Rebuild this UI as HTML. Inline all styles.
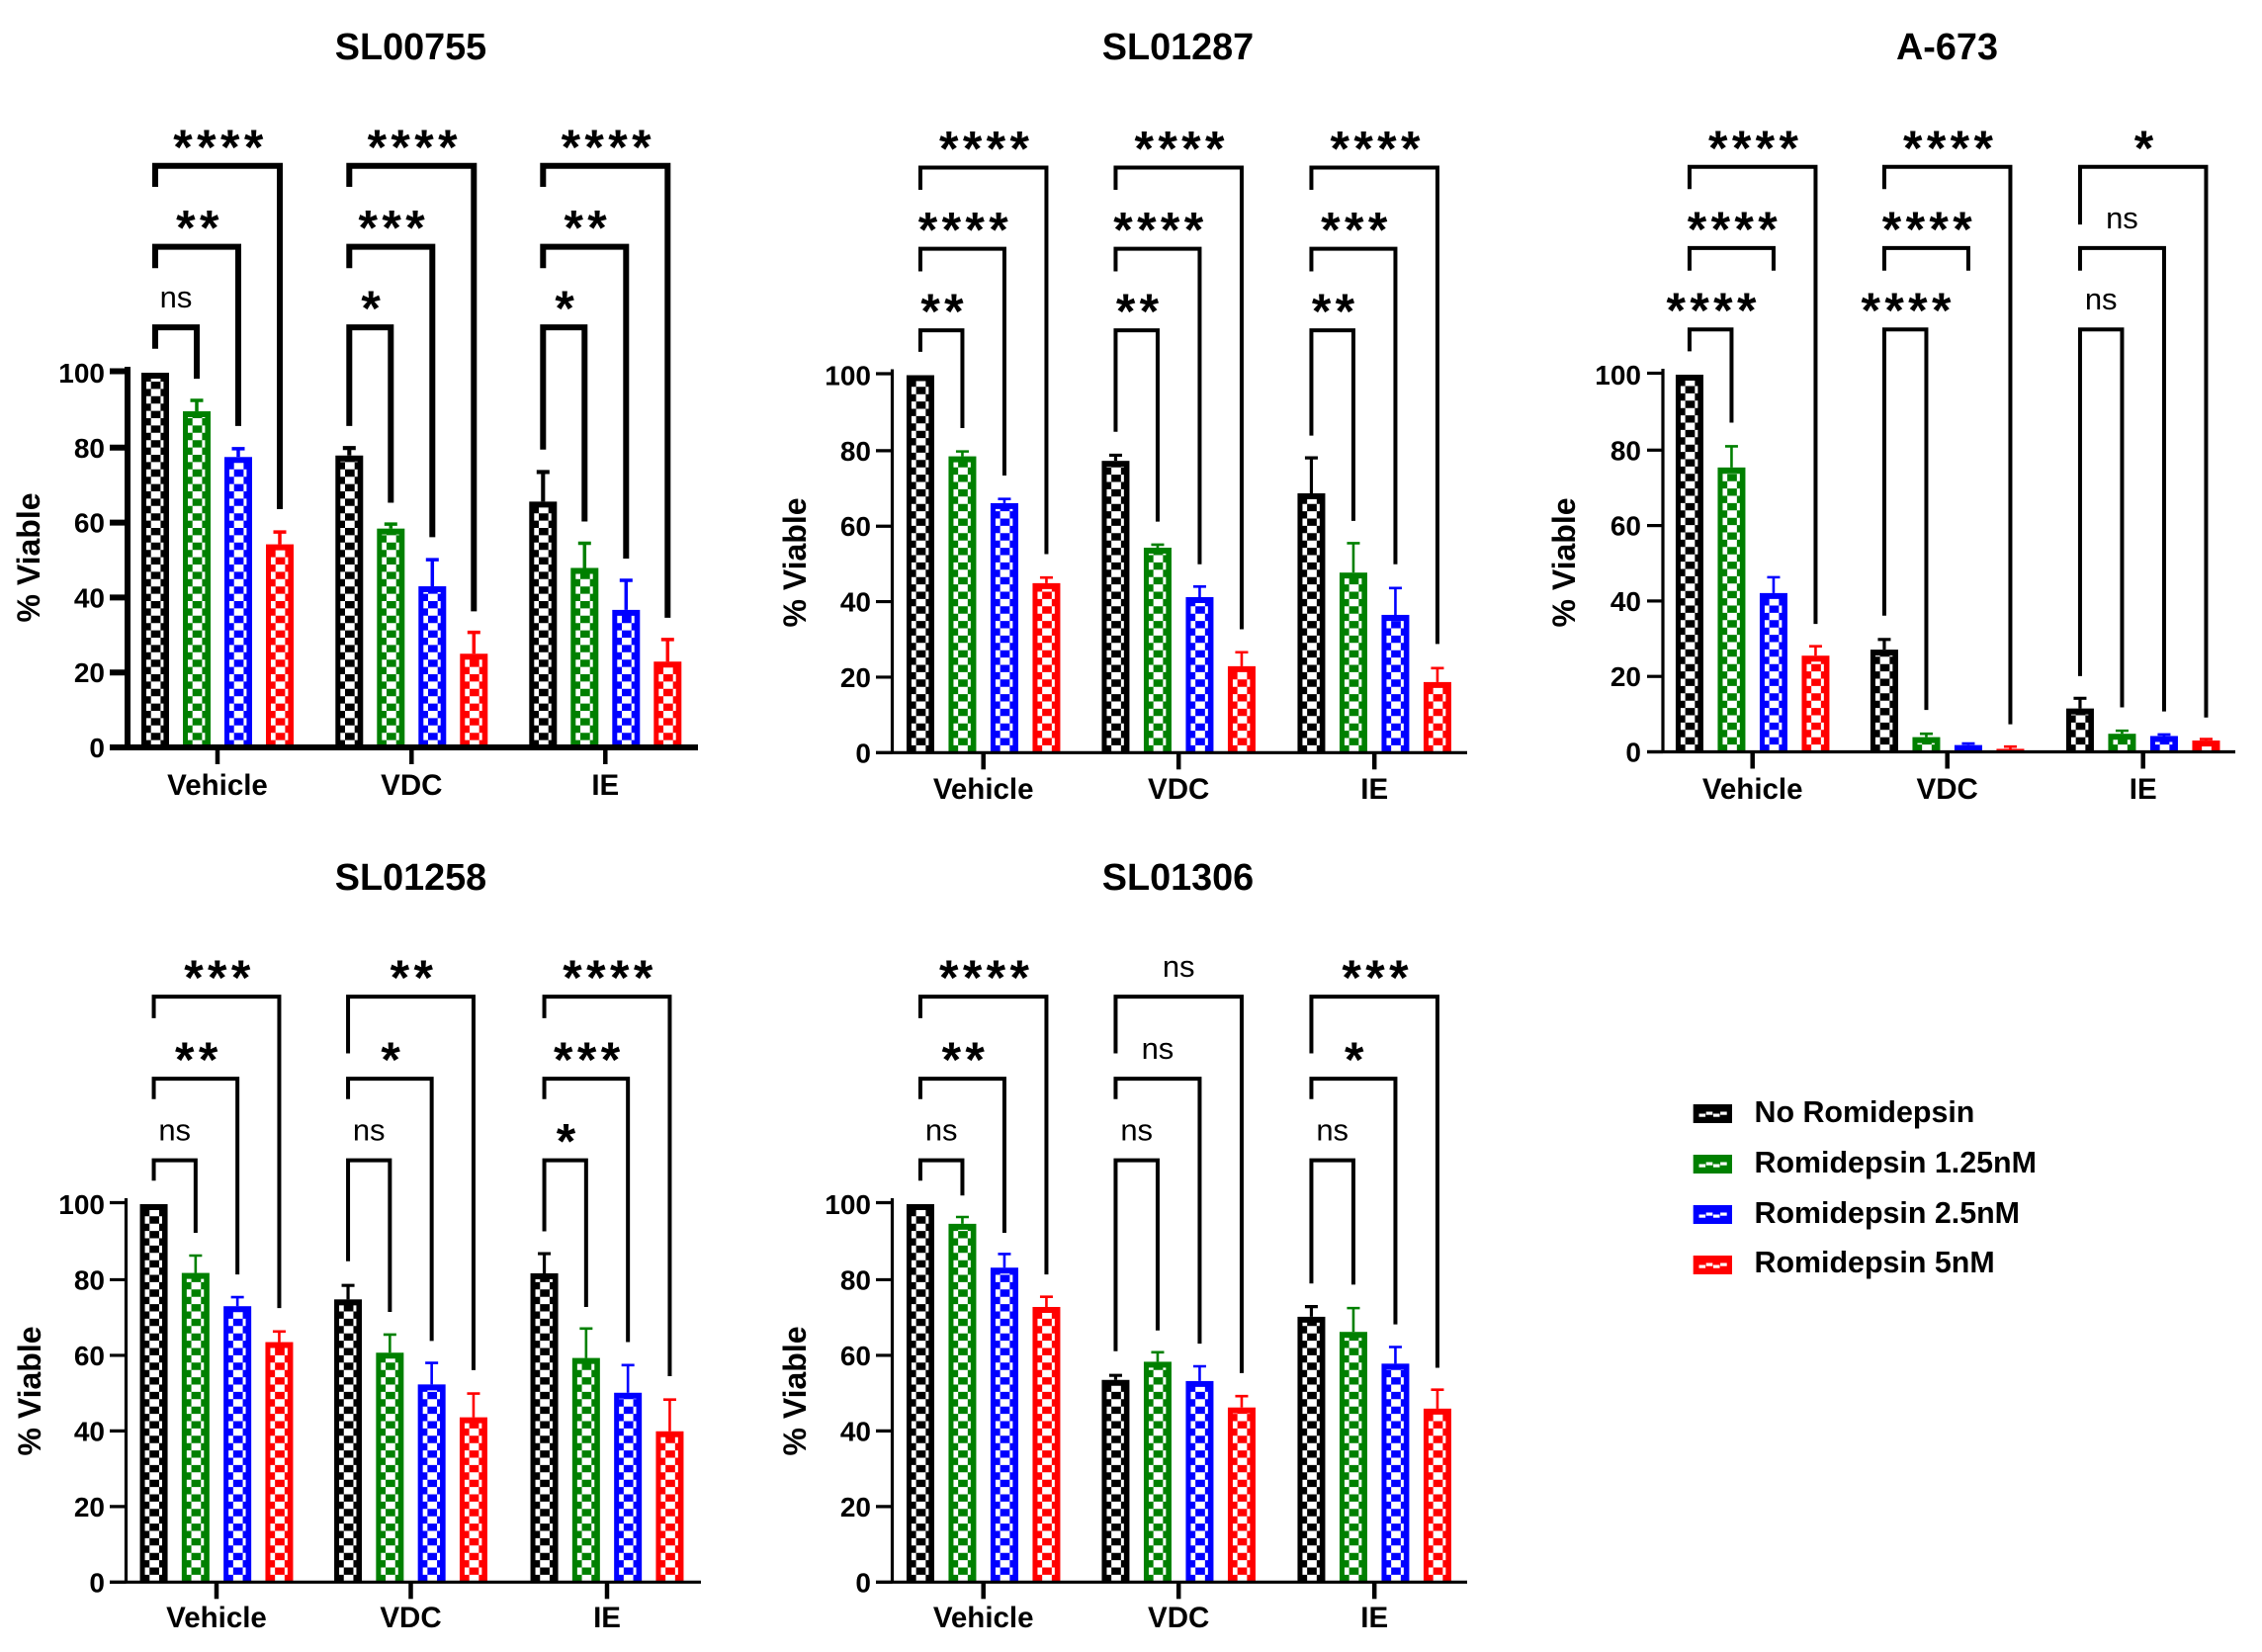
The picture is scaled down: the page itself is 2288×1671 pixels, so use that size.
<!DOCTYPE html>
<html lang="en">
<head>
<meta charset="utf-8">
<title>Romidepsin viability panels</title>
<style>
html,body{margin:0;padding:0;background:#fff;}
body{width:2288px;height:1671px;overflow:hidden;}
svg{display:block;}
text{font-family:"Liberation Sans",Arial,sans-serif;fill:#000;}
.title{font-weight:700;font-size:37.8px;text-anchor:middle;}
.legend-text{font-weight:700;font-size:30.4px;}
</style>
</head>
<body>
<svg id="figure" xmlns="http://www.w3.org/2000/svg" width="2288" height="1671" viewBox="0 0 2288 1671">
  <rect x="0" y="0" width="2288" height="1671" fill="#ffffff"/>
  <text class="title" x="415.5" y="60">SL00755</text>
  <text class="title" x="1191.5" y="60">SL01287</text>
  <text class="title" x="1969.5" y="60">A-673</text>
  <text class="title" x="415.5" y="900">SL01258</text>
  <text class="title" x="1191.5" y="900">SL01306</text>
  <g id="panel-0"></g>
  <g id="panel-1"></g>
  <g id="panel-2"></g>
  <g id="panel-3"></g>
  <g id="panel-4"></g>
  <g>
    <g id="swatch-0"></g>
    <text class="legend-text" x="1774.5" y="1135">No Romidepsin</text>
    <g id="swatch-1"></g>
    <text class="legend-text" x="1774.5" y="1186">Romidepsin 1.25nM</text>
    <g id="swatch-2"></g>
    <text class="legend-text" x="1774.5" y="1237">Romidepsin 2.5nM</text>
    <g id="swatch-3"></g>
    <text class="legend-text" x="1774.5" y="1287">Romidepsin 5nM</text>
  </g>
</svg>
<script>
// ---- shared chart data ----
const categories = ['Vehicle', 'VDC', 'IE'];
const seriesColors = ['#000000', '#008000', '#0000ff', '#ff0000'];
const yTicks = [0, 20, 40, 60, 80, 100];

// ---- bar heights, one row per category, one column per series ----
const sl00755Means = [[100, 89.7, 77.5, 54.2], [77.9, 58.4, 43, 25], [65.6, 47.9, 36.7, 22.9]];
const sl01287Means = [[100, 78.5, 66.1, 44.9], [77.3, 54.3, 41.2, 22.9], [68.7, 47.7, 36.5, 18.7]];
const a673Means = [[100, 75.4, 42.1, 25.5], [27.1, 3.9, 1.8, 0.8], [11.5, 4.8, 4.2, 3]];
const sl01258Means = [[100, 81.8, 73, 63.5], [74.8, 60.7, 52.3, 43.6], [81.7, 59.3, 50.1, 39.9]];
const sl01306Means = [[100, 94.8, 83.2, 72.8], [53.5, 58.3, 53.2, 46.2], [70.2, 66.2, 57.8, 45.9]];

// ---- error bar upper ends ----
const sl00755ErrorTops = [[100, 92.6, 79.7, 57.5], [79.9, 59.6, 50.1, 30.7], [73.5, 54.5, 44.6, 28.8]];
const sl01287ErrorTops = [[100, 79.8, 67.2, 46.4], [78.8, 55.1, 44, 26.6], [78.1, 55.5, 43.6, 22.4]];
const a673ErrorTops = [[100, 81, 46.3, 28], [29.8, 4.8, 2.2, 1.4], [14.2, 5.6, 4.6, 3.4]];
const sl01258ErrorTops = [[100, 86.4, 75.4, 66.3], [78.5, 65.5, 58, 49.9], [86.9, 67.1, 57.4, 48.3]];
const sl01306ErrorTops = [[100, 96.6, 86.8, 75.5], [54.7, 60.8, 57.1, 49.2], [72.9, 72.5, 62.2, 50.9]];

// ---- significance brackets per category: [low, middle, top] ----
const sl00755BracketLevels = [112.1, 133.6, 155.2];
const sl00755BracketLeft = [[106.4, 127.9, 149.6], [85.8, 127.9, 149.6], [79.5, 127.9, 149.6]];
const sl00755BracketRight = [[98.4, 85.8, 63.6], [65.3, 56.1, 36.3], [60.3, 50.4, 34.6]];
const sl00755Significance = [['ns', '**', '****'], ['*', '***', '****'], ['*', '**', '****']];

const sl01287BracketLevels = [111.9, 133.5, 155];
const sl01287BracketLeft = [[106.2, 127.5, 149.1], [85, 127.5, 149.1], [84, 127.5, 149.1]];
const sl01287BracketRight = [[86, 73.4, 52.6], [61.2, 49.9, 32.7], [61.4, 49.9, 28.8]];
const sl01287Significance = [['**', '****', '****'], ['**', '****', '****'], ['**', '***', '****']];

const a673BracketLevels = [112, 133.6, 155.1];
const a673BracketLeft = [[106.2, 127.6, 149.2], [36.1, 127.6, 149.2], [20.1, 127.6, 139.8]];
const a673BracketRight = [[87.3, 127.6, 33.9], [11.1, 127.6, 7.3], [11.8, 10.7, 9.1]];
const a673Significance = [['****', '****', '****'], ['****', '****', '****'], ['ns', 'ns', '*']];

const sl01258BracketLevels = [111.6, 133.2, 154.9];
const sl01258BracketLeft = [[106.2, 127.8, 149.2], [84.9, 127.8, 139.9], [92.8, 127.8, 149.2]];
const sl01258BracketRight = [[92.4, 81.4, 72.5], [71.5, 63.8, 56.1], [72.8, 63.5, 54.5]];
const sl01258Significance = [['ns', '**', '***'], ['ns', '*', '**'], ['*', '***', '****']];

const sl01306BracketLevels = [111.6, 133.2, 154.9];
const sl01306BracketLeft = [[106.2, 127.8, 149.2], [61.1, 127.8, 139.9], [79, 127.8, 139.9]];
const sl01306BracketRight = [[102.3, 92.4, 81.4], [66.6, 63.1, 55.3], [78.7, 68.2, 56.7]];
const sl01306Significance = [['ns', '**', '****'], ['ns', 'ns', 'ns'], ['ns', '*', '***']];

// ---- layout, separate from the data ----
const SVGNS = 'http://www.w3.org/2000/svg';
const panels = [
  {means: sl00755Means, tops: sl00755ErrorTops, levels: sl00755BracketLevels, left: sl00755BracketLeft, right: sl00755BracketRight, sig: sl00755Significance,
   axisX: 129, tickLeft: 111, axisEnd: 706, y0: 756, y100: 377, groups: [220, 416.3, 612.3], pitch: 42, axisW: 6, brW: 6, errW: 3.5, capW: 4, labelBase: 804, yLabelX: 40, yLabelY: 564, numRight: 106},
  {means: sl01287Means, tops: sl01287ErrorTops, levels: sl01287BracketLevels, left: sl01287BracketLeft, right: sl01287BracketRight, sig: sl01287Significance,
   axisX: 902.5, tickLeft: 886, axisEnd: 1484, y0: 761.3, y100: 379.5, groups: [994.7, 1192.2, 1390.2], pitch: 42.5, axisW: 3.2, brW: 4, errW: 2.6, capW: 2.6, labelBase: 808, yLabelX: 815, yLabelY: 569, numRight: 881},
  {means: a673Means, tops: a673ErrorTops, levels: a673BracketLevels, left: a673BracketLeft, right: a673BracketRight, sig: a673Significance,
   axisX: 1682, tickLeft: 1666, axisEnd: 2261, y0: 760.5, y100: 379, groups: [1772.7, 1969.7, 2167.7], pitch: 42.5, axisW: 3.2, brW: 4, errW: 2.6, capW: 2.6, labelBase: 808, yLabelX: 1593, yLabelY: 569, numRight: 1660},
  {means: sl01258Means, tops: sl01258ErrorTops, levels: sl01258BracketLevels, left: sl01258BracketLeft, right: sl01258BracketRight, sig: sl01258Significance,
   axisX: 127.5, tickLeft: 111, axisEnd: 709, y0: 1600.3, y100: 1218, groups: [219, 415.5, 614], pitch: 42.3, axisW: 3.2, brW: 4, errW: 2.6, capW: 2.6, labelBase: 1646, yLabelX: 41, yLabelY: 1407, numRight: 106},
  {means: sl01306Means, tops: sl01306ErrorTops, levels: sl01306BracketLevels, left: sl01306BracketLeft, right: sl01306BracketRight, sig: sl01306Significance,
   axisX: 902.5, tickLeft: 886, axisEnd: 1484, y0: 1600.3, y100: 1218, groups: [994.7, 1192.2, 1390.2], pitch: 42.5, axisW: 3.2, brW: 4, errW: 2.6, capW: 2.6, labelBase: 1646, yLabelX: 815, yLabelY: 1407, numRight: 881}
];

function mk(tag, parent, attrs) {
  const node = document.createElementNS(SVGNS, tag);
  for (const key in attrs) node.setAttribute(key, attrs[key]);
  parent.appendChild(node);
  return node;
}

const BAR_W = 28;
const ROW_H = 7.4;

function cellPath(xl, top, bottom) {
  // Checkered fill, anchored at the baseline and stopping under the top border.
  const inner = top + 6;
  let d = '';
  for (let i = 0; ; i++) {
    const yb = bottom - i * ROW_H;
    if (yb <= inner) break;
    const yt = Math.max(yb - ROW_H, inner);
    const h = (yb - yt).toFixed(2);
    if (i % 2 === 0) {
      d += 'M' + (xl + 9.7) + ' ' + yt.toFixed(2) + 'h9.7v' + h + 'h-9.7z';
    } else {
      d += 'M' + (xl + 5) + ' ' + yt.toFixed(2) + 'h4.7v' + h + 'h-4.7z';
      d += 'M' + (xl + 19.4) + ' ' + yt.toFixed(2) + 'h3v' + h + 'h-3z';
    }
  }
  return d;
}

function drawPanel(p, g) {
  const yScale = v => p.y0 - (p.y0 - p.y100) * v / 100;
  const xScale = (c, s) => p.groups[c] + (s - 1.5) * p.pitch;

  // Bars and error bars
  p.means.forEach((row, c) => {
    row.forEach((value, s) => {
      const cx = xScale(c, s);
      const color = seriesColors[s];
      const top = yScale(value);
      const errTop = yScale(p.tops[c][s]);
      if (p.tops[c][s] > value) {
        const err = mk('path', g, {
          d: 'M' + cx + ' ' + top + 'V' + errTop + 'M' + (cx - 6.5) + ' ' + errTop + 'H' + (cx + 6.5),
          fill: 'none', stroke: color, 'stroke-width': s === 0 ? p.errW + 0.6 : p.errW
        });
        
        
      }
      const bar = mk('rect', g, {x: cx - BAR_W / 2, y: top, width: BAR_W, height: Math.max(p.y0 - top, 0), fill: color});
      
      
      const cells = mk('path', g, {d: cellPath(cx - BAR_W / 2, top, p.y0), fill: '#ffffff'});
      
      
    });
  });

  // Y axis
  const yLine = mk('line', g, {x1: p.axisX, x2: p.axisX, y1: yScale(100) - 6, y2: p.y0, stroke: '#000', 'stroke-width': p.axisW});
  
  
  yTicks.forEach(t => {
    const tick = mk('line', g, {x1: p.tickLeft, x2: p.axisX, y1: yScale(t) - (t === 100 ? 1.5 : 0), y2: yScale(t) - (t === 100 ? 1.5 : 0), stroke: '#000', 'stroke-width': p.axisW});
    
    
    const label = mk('text', g, {x: p.numRight, y: yScale(t) + 10, 'text-anchor': 'end', 'font-size': 28, 'font-weight': 700});
    label.textContent = String(t);
    
    
  });

  // X axis
  const xLine = mk('line', g, {x1: p.tickLeft, x2: p.axisEnd, y1: p.y0, y2: p.y0, stroke: '#000', 'stroke-width': p.axisW});
  
  
  categories.forEach((name, c) => {
    const tick = mk('line', g, {x1: p.groups[c], x2: p.groups[c], y1: p.y0, y2: p.y0 + 17, stroke: '#000', 'stroke-width': 4.5});
    
    
    const label = mk('text', g, {x: p.groups[c], y: p.labelBase, 'text-anchor': 'middle', 'font-size': 29.5, 'font-weight': 700});
    label.textContent = name;
    
    
  });

  // Y title
  const yTitle = mk('text', g, {
    x: 0, y: 0, 'text-anchor': 'middle', 'font-size': 32, 'font-weight': 700,
    transform: 'translate(' + p.yLabelX + ' ' + p.yLabelY + ') rotate(-90)'
  });
  yTitle.textContent = '% Viable';
  
  

  // Significance brackets
  categories.forEach((name, c) => {
    p.levels.forEach((level, b) => {
      const xa = xScale(c, 0);
      const xb = xScale(c, b + 1);
      const yLevel = yScale(level);
      const br = mk('path', g, {
        d: 'M' + xa + ' ' + yScale(p.left[c][b]) + 'V' + yLevel + 'H' + xb + 'V' + yScale(p.right[c][b]),
        fill: 'none', stroke: '#000', 'stroke-width': p.brW, 'stroke-linejoin': 'miter'
      });
      
      
      const text = p.sig[c][b];
      const mid = (xa + xb) / 2;
      let sig;
      if (text === 'ns') {
        sig = mk('text', g, {x: mid, y: yLevel - 20, 'text-anchor': 'middle', 'font-size': 31});
      } else {
        const size = 50;
        sig = mk('text', g, {x: mid + 3, y: yLevel - 31 + size * 0.58, 'text-anchor': 'middle', 'font-size': size, 'letter-spacing': 4.4, 'font-weight': 700});
      }
      sig.textContent = text;
      
      
    });
  });
}

panels.forEach((p, i) => drawPanel(p, document.getElementById('panel-' + i)));

// Legend swatches
const swatchTops = [1117, 1168, 1219, 1270];
seriesColors.forEach((color, i) => {
  const g = document.getElementById('swatch-' + i);
  const top = swatchTops[i];
  const box = mk('rect', g, {x: 1712.7, y: top, width: 39.3, height: 19, fill: color});
  
  
  for (let k = 0; k < 4; k++) {
    const dash = mk('rect', g, {x: 1718.5 + k * 7.2, y: top + (k % 2 === 0 ? 9.5 : 7.5), width: 6.6, height: 3.2, fill: '#ffffff'});
    
    
  }
});
</script>
</body>
</html>
